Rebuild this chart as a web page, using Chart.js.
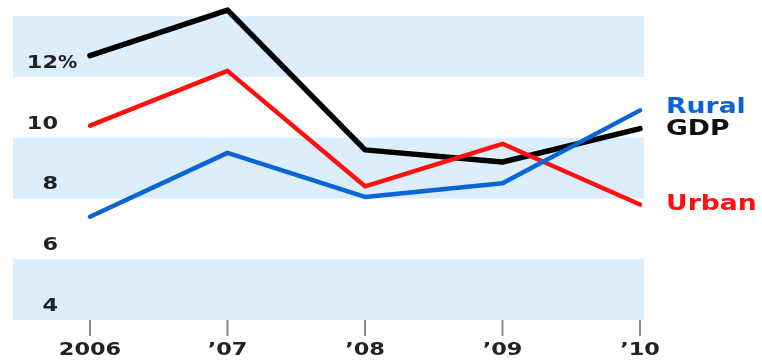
<!DOCTYPE html>
<html><head><meta charset="utf-8">
<script src="https://cdn.jsdelivr.net/npm/chart.js@4.4.1/dist/chart.umd.min.js"></script>
<style>html,body{margin:0;padding:0;background:#fff}#wrap{width:762px;height:360px}</style>
</head><body><div id="wrap"><canvas id="c" width="762" height="360"></canvas></div>
<script>
const categories = ['2006', '\u201907', '\u201908', '\u201909', '\u201910'];
const gdp   = [12.7, 14.2, 9.6, 9.2, 10.3];
const urban = [10.4, 12.2, 8.4, 9.8, 7.8];
const rural = [7.4, 9.5, 8.05, 8.5, 10.9];
const yTicks = [4, 6, 8, 10, 12];
const bands = [[4, 6], [8, 10], [12, 14]];
const seriesNames = ['Rural', 'GDP', 'Urban'];

const FONT = 'bold 17.5px "DejaVu Sans"';
const SX = 1.28;
function stretchedText(ctx, txt, x, y, align, sx) {
  ctx.save();
  ctx.translate(x, y);
  ctx.scale(sx || SX, 1);
  ctx.textAlign = align;
  ctx.fillText(txt, 0, 0);
  ctx.restore();
}

const deco = {
  id: 'deco',
  beforeDatasetsDraw(chart) {
    const ctx = chart.ctx, ys = chart.scales.y, ca = chart.chartArea;
    ctx.save();
    ctx.fillStyle = '#dcedfc';
    bands.forEach(b => {
      const t = ys.getPixelForValue(b[1]), btm = ys.getPixelForValue(b[0]);
      ctx.fillRect(ca.left - 77, t, (ca.right + 4) - (ca.left - 77), btm - t);
    });
    ctx.fillStyle = '#222';
    ctx.font = FONT;
    ctx.textBaseline = 'alphabetic';
    yTicks.forEach(v => {
      const py = ys.getPixelForValue(v) - 9;
      stretchedText(ctx, String(v), ca.left - 32, py, 'right');
      if (v === 12) stretchedText(ctx, '%', ca.left - 32, py, 'left', 1.1);
    });
    const xs = chart.scales.x;
    categories.forEach((c, i) => {
      const px = xs.getPixelForValue(i);
      ctx.strokeStyle = '#888';
      ctx.lineWidth = 2;
      ctx.beginPath();
      ctx.moveTo(px, ca.bottom);
      ctx.lineTo(px, ca.bottom + 16);
      ctx.stroke();
      ctx.fillStyle = '#222';
      stretchedText(ctx, c, px, ca.bottom + 35, 'center');
    });
    ctx.restore();
  },
  afterDatasetsDraw(chart) {
    const ctx = chart.ctx, ys = chart.scales.y, ca = chart.chartArea;
    ctx.save();
    ctx.font = 'bold 20.5px "DejaVu Sans"';
    ctx.textBaseline = 'middle';
    const info = [
      {name: seriesNames[0], data: rural, color: '#0a64d6', dy: -3},
      {name: seriesNames[1], data: gdp, color: '#111', dy: 1},
      {name: seriesNames[2], data: urban, color: '#ff1010', dy: 0}
    ];
    info.forEach(s => {
      ctx.fillStyle = s.color;
      const py = ys.getPixelForValue(s.data[s.data.length - 1]) + s.dy;
      stretchedText(ctx, s.name, ca.right + 26, py, 'left', 1.3);
    });
    ctx.restore();
  }
};

new Chart(document.getElementById('c'), {
  type: 'line',
  data: {
    labels: categories,
    datasets: [
      {label: 'Rural', data: rural, borderColor: '#0a64d6', borderWidth: 4.5},
      {label: 'Urban', data: urban, borderColor: '#ff1010', borderWidth: 4.5},
      {label: 'GDP', data: gdp, borderColor: '#000', borderWidth: 5.5}
    ].map(d => Object.assign(d, {pointRadius: 0, pointHoverRadius: 0, tension: 0, fill: false, clip: false, borderCapStyle: 'round', borderJoinStyle: 'round'}))
  },
  options: {
    responsive: false,
    animation: false,
    events: [],
    layout: {padding: {left: 90, right: 122, top: 1, bottom: 40}},
    plugins: {legend: {display: false}, tooltip: {enabled: false}},
    scales: {
      x: {display: false, offset: false},
      y: {display: false, min: 4, max: 14.5}
    }
  },
  plugins: [deco]
});
</script></body></html>
